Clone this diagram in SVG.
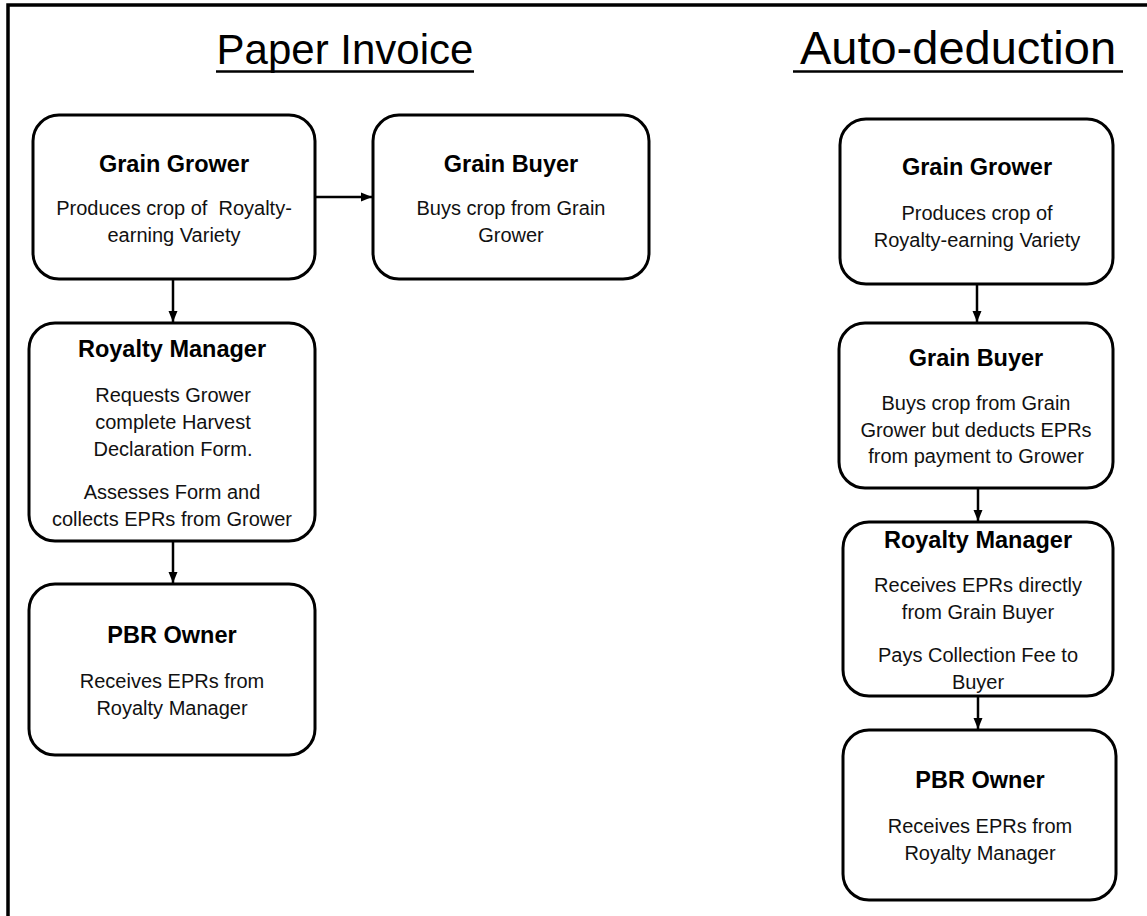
<svg xmlns="http://www.w3.org/2000/svg" width="1147" height="916" viewBox="0 0 1147 916">
<defs>
<marker id="arr" markerUnits="userSpaceOnUse" markerWidth="12" markerHeight="12" viewBox="0 0 12 12" refX="11" refY="6" orient="auto">
<path d="M0,1.5 L11,6 L0,10.5 Z" fill="#000"/>
</marker>
<style>
.box{fill:#fff;stroke:#000;stroke-width:3}
.t{font-family:"Liberation Sans",Arial,sans-serif;font-weight:bold;font-size:23.5px;text-anchor:middle;fill:#000}
.b{font-family:"Liberation Sans",Arial,sans-serif;font-size:20px;text-anchor:middle;fill:#111}
.h{font-family:"Liberation Sans",Arial,sans-serif;text-anchor:middle;fill:#000}
.c{stroke:#000;stroke-width:2.5;fill:none;marker-end:url(#arr)}
</style>
</defs>
<rect width="1147" height="916" fill="#fff"/>
<path d="M8,916 V5 H1147" fill="none" stroke="#000" stroke-width="3.5"/>

<g id="headings">
<text class="h" x="345" y="64" font-size="42">Paper Invoice</text>
<line x1="216" y1="71.5" x2="474" y2="71.5" stroke="#000" stroke-width="2.5"/>
<text class="h" x="958" y="64" font-size="47">Auto-deduction</text>
<line x1="793" y1="71.5" x2="1123" y2="71.5" stroke="#000" stroke-width="2.5"/>
</g>

<g id="connectors">
<line class="c" x1="315" y1="197" x2="372" y2="197"/>
<line class="c" x1="173" y1="279" x2="173" y2="322"/>
<line class="c" x1="173" y1="541" x2="173" y2="583"/>
<line class="c" x1="977" y1="284" x2="977" y2="322"/>
<line class="c" x1="978" y1="488" x2="978" y2="521"/>
<line class="c" x1="978" y1="696" x2="978" y2="729"/>
</g>

<g id="pi-grower">
<rect class="box" x="33" y="115" width="282" height="164" rx="26"/>
<text class="t" x="174" y="172">Grain Grower</text>
<text class="b" x="174" y="215" xml:space="preserve">Produces crop of  Royalty-</text>
<text class="b" x="174" y="242">earning Variety</text>
</g>

<g id="pi-buyer">
<rect class="box" x="373" y="115" width="276" height="164" rx="26"/>
<text class="t" x="511" y="172">Grain Buyer</text>
<text class="b" x="511" y="215">Buys crop from Grain</text>
<text class="b" x="511" y="242">Grower</text>
</g>

<g id="pi-manager">
<rect class="box" x="29" y="323" width="286" height="218" rx="26"/>
<text class="t" x="172" y="357">Royalty Manager</text>
<text class="b" x="173" y="402">Requests Grower</text>
<text class="b" x="173" y="429">complete Harvest</text>
<text class="b" x="173" y="456">Declaration Form.</text>
<text class="b" x="172" y="499">Assesses Form and</text>
<text class="b" x="172" y="526">collects EPRs from Grower</text>
</g>

<g id="pi-owner">
<rect class="box" x="29" y="584" width="286" height="171" rx="26"/>
<text class="t" x="172" y="643">PBR Owner</text>
<text class="b" x="172" y="688">Receives EPRs from</text>
<text class="b" x="172" y="715">Royalty Manager</text>
</g>

<g id="ad-grower">
<rect class="box" x="840" y="119" width="273" height="165" rx="26"/>
<text class="t" x="977" y="175">Grain Grower</text>
<text class="b" x="977" y="220">Produces crop of</text>
<text class="b" x="977" y="247">Royalty-earning Variety</text>
</g>

<g id="ad-buyer">
<rect class="box" x="839" y="323" width="274" height="165" rx="26"/>
<text class="t" x="976" y="366">Grain Buyer</text>
<text class="b" x="976" y="410">Buys crop from Grain</text>
<text class="b" x="976" y="437">Grower but deducts EPRs</text>
<text class="b" x="976" y="463">from payment to Grower</text>
</g>

<g id="ad-manager">
<rect class="box" x="843" y="522" width="270" height="174" rx="26"/>
<text class="t" x="978" y="548">Royalty Manager</text>
<text class="b" x="978" y="592">Receives EPRs directly</text>
<text class="b" x="978" y="619">from Grain Buyer</text>
<text class="b" x="978" y="662">Pays Collection Fee to</text>
<text class="b" x="978" y="689">Buyer</text>
</g>

<g id="ad-owner">
<rect class="box" x="843" y="730" width="273" height="170" rx="26"/>
<text class="t" x="980" y="788">PBR Owner</text>
<text class="b" x="980" y="833">Receives EPRs from</text>
<text class="b" x="980" y="860">Royalty Manager</text>
</g>
</svg>
